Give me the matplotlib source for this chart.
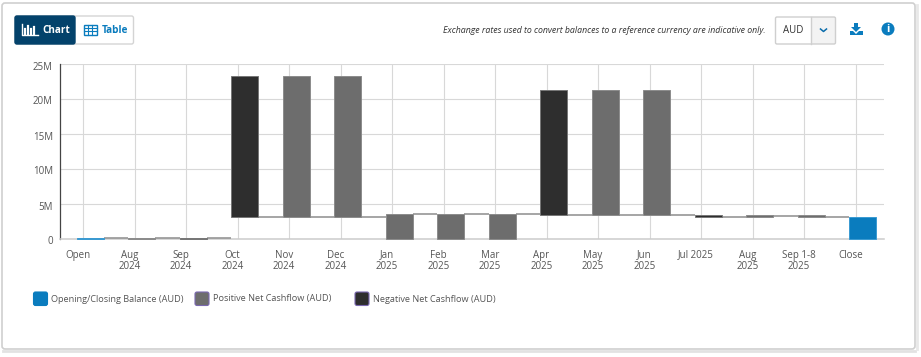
import numpy as np
import matplotlib
matplotlib.use("Agg")
import matplotlib.pyplot as plt
from matplotlib import patches as mpatches
from matplotlib.transforms import ScaledTranslation

plt.rcParams["font.family"] = ["Open Sans", "DejaVu Sans"]

categories = ["Open", "Aug\n2024", "Sep\n2024", "Oct\n2024", "Nov\n2024", "Dec\n2024",
              "Jan\n2025", "Feb\n2025", "Mar\n2025", "Apr\n2025", "May\n2025", "Jun\n2025",
              "Jul 2025", "Aug\n2025", "Sep 1-8\n2025", "Close"]
# floating bars, millions
bar_low = [0, 0, 0, 3.05, 3.05, 3.05, 0, 0, 0, 3.35, 3.35, 3.35, 3.05, 3.05, 3.05, 0]
bar_high = [0.03, 0.03, 0.05, 23.2, 23.2, 23.2, 3.5, 3.5, 3.5, 21.2, 21.2, 21.2, 3.35, 3.3, 3.3, 3.05]
bar_kind = ["bal", "pos", "neg", "neg", "pos", "pos", "pos", "pos", "pos",
            "neg", "pos", "pos", "neg", "pos", "pos", "bal"]
# running balance joining a bar to the next one
connect = [0.02, 0.02, 0.03, 3.05, 3.05, 3.05, 3.5, 3.5, 3.5, 3.35, 3.35, 3.35, 3.05, 3.15, 3.1]
y_ticks = [0, 5, 10, 15, 20, 25]
y_labels = ["0", "5M", "10M", "15M", "20M", "25M"]
legend_names = ["Opening/Closing Balance (AUD)", "Positive Net Cashflow (AUD)", "Negative Net Cashflow (AUD)"]

kind_color = {"bal": "#0a7cbe", "pos": "#6d6d6d", "neg": "#2e2e2e"}
kind_edge = {"bal": "#3a9ad2", "pos": "#8c8c8c", "neg": "#777777"}
W, H = 921, 357

fig = plt.figure(figsize=(W / 100, H / 100), dpi=100, facecolor="white")

# page furniture, drawn in pixel coords
ui = fig.add_axes([0, 0, 1, 1], zorder=0)
ui.set_xlim(0, W)
ui.set_ylim(H, 0)
ui.axis("off")
ui.add_patch(mpatches.FancyBboxPatch((2, 3), 913, 346, boxstyle="round,pad=0,rounding_size=3",
                                     fc="white", ec="#cfcfcf", lw=1.2))
ui.plot([3, 915], [351, 351], color="#e2e2e2", lw=2)
ui.plot([917, 917], [5, 349], color="#e8e8e8", lw=2)

# chart/table toggle
ui.add_patch(mpatches.FancyBboxPatch((15, 16), 118.5, 28, boxstyle="round,pad=0,rounding_size=2",
                                     fc="white", ec="#d4d4d4", lw=1))
ui.add_patch(mpatches.FancyBboxPatch((15, 16), 60, 28, boxstyle="round,pad=0,rounding_size=2",
                                     fc="#03426b", ec="#03426b", lw=1))
ui.text(42.5, 30.5, "Chart", color="white", fontsize=7.2, fontweight="bold", va="center")
ui.text(101.5, 30.5, "Table", color="#0a7cbe", fontsize=7.2, fontweight="bold", va="center")
ui.plot([21.5, 21.5, 37.5], [24, 35, 35], color="white", lw=1)
for bx, bh in zip([25, 28, 31, 34], [5, 8, 5, 7]):
    ui.plot([bx, bx], [33.5, 33.5 - bh], color="white", lw=1.6)
ui.add_patch(mpatches.Rectangle((84, 24.5), 12.5, 10, fc="none", ec="#0a7cbe", lw=1))
for gy in [27.8, 31.2]:
    ui.plot([84, 96.5], [gy, gy], color="#0a7cbe", lw=0.8)
for gx in [88.2, 92.4]:
    ui.plot([gx, gx], [24.5, 34.5], color="#0a7cbe", lw=0.8)

# currency selector + note
ui.text(766, 30.5, "Exchange rates used to convert balances to a reference currency are indicative only.",
        color="#333333", fontsize=6.3, fontstyle="italic", ha="right", va="center")
ui.add_patch(mpatches.Rectangle((811, 17), 24.5, 27, fc="#f3f3f3", ec="none"))
ui.add_patch(mpatches.FancyBboxPatch((775.5, 17), 60, 27, boxstyle="round,pad=0,rounding_size=1.5",
                                     fc="none", ec="#cfcfcf", lw=1))
ui.plot([811, 811], [17, 44], color="#cfcfcf", lw=1)
ui.text(793, 30.5, "AUD", color="#333333", fontsize=7, ha="center", va="center")
ui.plot([820.5, 823.5, 826.5], [29, 31.5, 29], color="#0a6cab", lw=1.1)
# download icon
ui.add_patch(mpatches.Polygon([[854, 23], [858, 23], [858, 27], [861, 27], [856, 32], [851, 27], [854, 27]],
                              fc="#0a7cbe", ec="none"))
ui.add_patch(mpatches.Polygon([[850, 31], [853, 31], [856, 34], [859, 31], [863, 31], [863, 35], [850, 35]],
                              fc="#0a7cbe", ec="none"))
# info icon
ui.add_patch(mpatches.Circle((888, 29), 6.5, fc="#0a7cbe", ec="none"))
ui.text(888, 29, "i", color="white", fontsize=8, fontweight="bold", ha="center", va="center")

# legend
leg_x = [33.5, 195, 355]
leg_fc = ["#0a7cbe", "#6d6d6d", "#2e2e2e"]
leg_ec = ["#0a7cbe", "#7a68b0", "#7a68b0"]
for lx, name, fc, ec in zip(leg_x, legend_names, leg_fc, leg_ec):
    ui.add_patch(mpatches.FancyBboxPatch((lx, 292), 14, 13.5, boxstyle="round,pad=0,rounding_size=2",
                                         fc=fc, ec=ec, lw=0.8))
    ui.text(lx + 17.5, 299, name, color="#555555", fontsize=6.55, va="center")

# chart
ax = fig.add_axes([60 / W, 1 - 238.5 / H, (884 - 60) / W, 175 / H], zorder=1)
ax.patch.set_alpha(0)
x = np.arange(len(categories))
step = 51.5
ax.set_xlim(-30 / step, -30 / step + (884 - 60) / step)
ax.set_ylim(0, 25)

heights = np.array(bar_high) - np.array(bar_low)
ax.bar(x, heights, bottom=bar_low, width=27 / step,
       color=[kind_color[k] for k in bar_kind], edgecolor=[kind_edge[k] for k in bar_kind],
       linewidth=0.7, zorder=3, clip_on=False)
half = 13.5 / step
for i, level in enumerate(connect):
    ax.plot([i + half, i + 1 - half], [level, level], color="#969696", lw=1.2, zorder=2.6,
            solid_capstyle="butt", clip_on=False)

ax.set_yticks(y_ticks)
ax.set_yticklabels(y_labels)
ax.set_xticks(x - 7 / step)
ax.set_xticklabels(categories)
ax.grid(True, color="#d8d8d8", lw=0.8, zorder=0)
ax.set_axisbelow(True)
ax.tick_params(axis="both", length=0)
ax.tick_params(axis="x", labelsize=7, labelcolor="#555555", pad=8)
ax.tick_params(axis="y", labelsize=7, labelcolor="#555555", pad=5)
for lab in ax.get_xticklabels():
    lab.set_transform(lab.get_transform() + ScaledTranslation(-5 / 100, 0, fig.dpi_scale_trans))
    lab.set_linespacing(1.0)
for lab in ax.get_yticklabels():
    lab.set_transform(lab.get_transform() + ScaledTranslation(0, -2 / 100, fig.dpi_scale_trans))
for side in ["top", "right"]:
    ax.spines[side].set_visible(False)
ax.spines["left"].set_color("#444444")
ax.spines["left"].set_linewidth(0.9)
ax.spines["bottom"].set_color("#cccccc")
ax.spines["bottom"].set_linewidth(1.1)

fig.savefig("out.png", dpi=100)
